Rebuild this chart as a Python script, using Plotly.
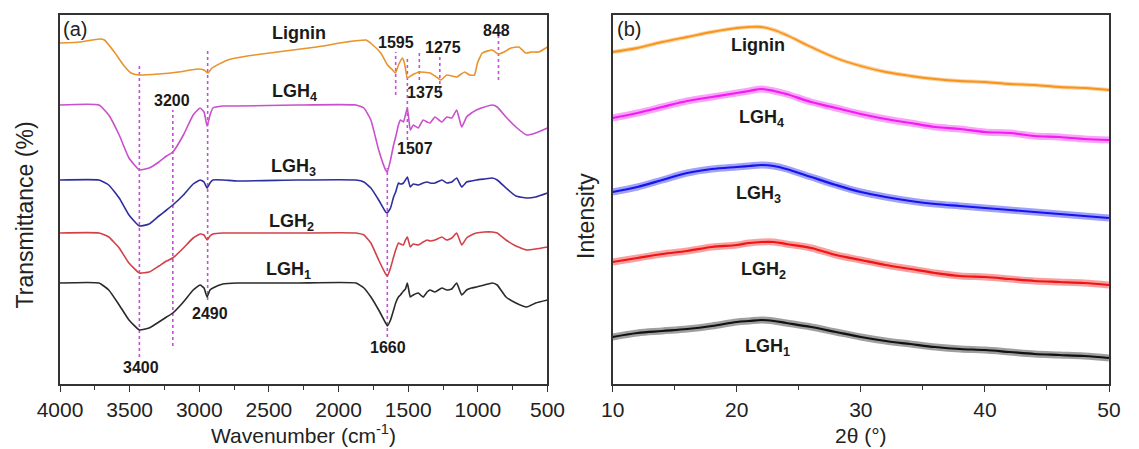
import plotly.graph_objects as go
from plotly.subplots import make_subplots

# ---------------- FTIR data (panel a) ----------------
# wavenumber grid (cm-1) for the lignin spectrum
wn_lignin = [4000, 3858, 3717, 3681, 3610, 3539, 3490, 3433, 3292, 3150, 3008, 2966, 2937, 2909,
             2796, 2654, 2441, 2158, 1945, 1803, 1754, 1697, 1648, 1612, 1591, 1570, 1541, 1527,
             1506, 1471, 1421, 1343, 1308, 1265, 1223, 1152, 1095, 1060, 1024, 1003, 968, 897,
             854, 812, 762, 705, 656, 613, 563, 500]
t_lignin = [341, 342, 345, 344, 332, 318, 311, 309, 310, 312, 315, 314, 311, 316,
            324, 328, 332, 337, 342, 344, 339, 331, 319, 314, 311, 319, 326, 321,
            306, 309, 312, 311, 308, 304, 309, 307, 312, 309, 309, 321, 331, 334,
            330, 332, 336, 337, 331, 332, 332, 337]

# shared wavenumber grid (cm-1) for the LGH spectra
wn_lgh = [4000, 3720, 3650, 3575, 3505, 3430, 3360, 3290, 3235, 3190, 3114, 3044, 2994, 2966,
          2944, 2923, 2902, 2831, 2725, 2300, 1875, 1818, 1768, 1712, 1662, 1650, 1627, 1605,
          1590, 1570, 1556, 1534, 1520, 1506, 1485, 1464, 1428, 1393, 1364, 1343, 1308, 1258,
          1223, 1187, 1152, 1116, 1081, 1046, 1010, 953, 897, 861, 798, 727, 649, 585, 500]
t_lgh4 = [279, 279, 269, 249, 226, 214, 216, 222, 228, 232, 249, 269, 276, 272,
          258, 269, 276, 278, 278, 279, 279, 276, 264, 234, 214, 212, 224, 239,
          247, 259, 264, 262, 269, 276, 254, 259, 256, 264, 262, 261, 267, 262,
          267, 266, 274, 257, 267, 271, 274, 277, 279, 277, 267, 257, 249, 251, 256]
t_lgh3 = [204, 204, 199, 186, 169, 158, 160, 168, 174, 179, 189, 200, 204, 202,
          196, 201, 204, 204, 203, 204, 204, 202, 196, 184, 172, 171, 176, 187,
          192, 201, 200, 201, 204, 207, 197, 200, 199, 201, 202, 201, 201, 204,
          201, 202, 206, 197, 202, 203, 204, 205, 206, 204, 196, 188, 186, 187, 191]
t_lgh2 = [151, 151, 147, 136, 121, 111, 112, 118, 123, 126, 136, 146, 150, 149,
          144, 148, 150, 151, 151, 151, 151, 149, 141, 124, 110, 108, 116, 127,
          134, 141, 140, 139, 144, 147, 137, 140, 139, 142, 144, 143, 144, 147,
          144, 146, 151, 139, 146, 149, 151, 152, 152, 151, 144, 138, 134, 135, 137]
t_lgh1 = [101, 101, 94, 79, 64, 54, 56, 62, 67, 71, 82, 94, 99, 96,
          87, 94, 96, 100, 101, 101, 101, 96, 87, 74, 61, 58, 64, 74,
          81, 87, 89, 93, 95, 101, 87, 89, 91, 87, 92, 94, 92, 96,
          94, 95, 101, 89, 94, 96, 97, 99, 101, 99, 87, 81, 77, 81, 84]

# marked band positions (cm-1) and the extent of each dotted guide (a.u.)
band_wn = [3430, 3190, 2940, 1650, 1590, 1506, 1420, 1273, 852]
band_top = [321, 274, 334, 216, 332, 326, 331, 329, 349]
band_bottom = [27, 38, 84, 47, 289, 244, 304, 294, 304]
band_labels = ["3400", "3200", "2490", "1660", "1595", "1507", "1375", "1275", "848"]

# ---------------- XRD data (panel b) ----------------
two_theta = [10, 12, 14, 16, 18, 20, 21, 22, 23, 24, 26, 28, 30, 32, 34, 36, 38, 40, 42, 44, 46, 48, 50]
i_lignin = [332, 336, 342, 347, 352, 356, 357, 357, 354, 349, 337, 326, 318, 312, 308, 305, 303, 302, 300, 299, 297, 296, 294]
i_lgh4 = [266, 271, 277, 283, 287, 291, 293, 295, 293, 290, 282, 276, 270, 265, 261, 257, 255, 252, 251, 248, 247, 245, 244]
i_lgh3 = [192, 197, 204, 211, 215, 217, 218, 219, 218, 215, 207, 199, 192, 187, 183, 180, 178, 176, 174, 172, 170, 168, 166]
i_lgh2 = [122, 126, 130, 133, 137, 139, 141, 142, 142, 140, 136, 129, 124, 119, 115, 111, 108, 107, 105, 103, 102, 101, 99]
i_lgh1 = [47, 51, 53, 55, 58, 62, 63, 64, 63, 61, 57, 52, 47, 43, 40, 37, 35, 34, 32, 30, 29, 28, 26]

series_names = ["Lignin", "LGH<sub>4</sub>", "LGH<sub>3</sub>", "LGH<sub>2</sub>", "LGH<sub>1</sub>"]

# ---------------- figure ----------------
W, H = 1139, 449
L, R, T, B = 60, 16, 15, 65
plot_w = W - L - R
plot_h = H - T - B

def px(x):
    return (x - L) / plot_w

def py(y):
    return (H - B - y) / plot_h

fig = make_subplots(rows=1, cols=2)
dom_a = [0, px(554)]
dom_b = [px(620), 1]

FONT = "Arial, Liberation Sans, sans-serif"

colors_a = ["#E8932C", "#C94FCC", "#2E2E9E", "#D2404A", "#2a2a2a"]
colors_b = ["#F7941D", "#F21BF2", "#1414F0", "#F01414", "#111111"]

# dotted guide lines (drawn first, under spectra)
for w, y0, y1 in zip(band_wn, band_bottom, band_top):
    fig.add_trace(go.Scatter(x=[w, w], y=[y0, y1], mode="lines",
                             line=dict(color="#C44FD8", width=1.6, dash="dot"),
                             showlegend=False, hoverinfo="skip"), row=1, col=1)

ftir = [(wn_lignin, t_lignin), (wn_lgh, t_lgh4), (wn_lgh, t_lgh3), (wn_lgh, t_lgh2), (wn_lgh, t_lgh1)]
for (xs, ys), c, n in zip(ftir, colors_a, series_names):
    fig.add_trace(go.Scatter(x=xs, y=ys, mode="lines", name=n,
                             line=dict(color=c, width=1.6, shape="spline", smoothing=0.4),
                             showlegend=False), row=1, col=1)

xrd = [i_lignin, i_lgh4, i_lgh3, i_lgh2, i_lgh1]
for k, (ys, c, n) in enumerate(zip(xrd, colors_b, series_names)):
    band = 4 if k == 0 else 7
    fig.add_trace(go.Scatter(x=two_theta, y=ys, mode="lines", opacity=0.4,
                             line=dict(color=c, width=band, shape="spline"),
                             showlegend=False, hoverinfo="skip"), row=1, col=2)
    fig.add_trace(go.Scatter(x=two_theta, y=ys, mode="lines", name=n,
                             line=dict(color=c, width=1.8 if k == 0 else 2.2, shape="spline"),
                             showlegend=False), row=1, col=2)

axis_common = dict(showline=True, mirror=True, linecolor="#333333", linewidth=1.5,
                   showgrid=False, zeroline=False)
fig.update_xaxes(**axis_common, ticks="outside", ticklen=6, tickwidth=1.3, tickcolor="#333333",
                 tickfont=dict(family=FONT, size=21, color="#222222"))
fig.update_xaxes(range=[4000, 500], dtick=500, tick0=500, domain=dom_a,
                 minor=dict(ticks="outside", ticklen=4, dtick=250, tickcolor="#333333"), row=1, col=1)
fig.update_xaxes(range=[10, 50], dtick=10, tick0=10, domain=dom_b,
                 minor=dict(ticks="outside", ticklen=4, dtick=5, tickcolor="#333333"), row=1, col=2)
fig.update_yaxes(**axis_common, showticklabels=False, ticks="", range=[0, plot_h])

ann = []
def label(xp, yp, text, size=16):
    ann.append(dict(x=px(xp), y=py(yp), xref="paper", yref="paper", text="<b>%s</b>" % text,
                    showarrow=False, font=dict(family=FONT, size=size, color="#1a1a1a"),
                    xanchor="center", yanchor="middle"))

# band labels (panel a)
band_label_pos = [(142, 367), (173, 100), (212, 313), (392, 347), (400, 43),
                  (420, 148), (430, 92), (448, 47), (502, 30)]
for (xp, yp), t in zip(band_label_pos, band_labels):
    label(xp, yp, t, 16)

# series names, panel a
for (xp, yp), n in zip([(302, 33), (298, 92), (297, 167), (295, 222), (292, 270)], series_names):
    label(xp, yp, n, 18)
# series names, panel b
for (xp, yp), n in zip([(767, 45), (771, 119), (768, 194), (773, 270), (777, 347)], series_names):
    label(xp, yp, n, 18)

# panel tags
ann.append(dict(x=px(61), y=py(16), xref="paper", yref="paper", text="(a)", showarrow=False,
                font=dict(family=FONT, size=20, color="#222"), xanchor="left", yanchor="top"))
ann.append(dict(x=px(622), y=py(16), xref="paper", yref="paper", text="(b)", showarrow=False,
                font=dict(family=FONT, size=20, color="#222"), xanchor="left", yanchor="top"))

# axis titles
ann.append(dict(x=px(307), y=py(449), xref="paper", yref="paper",
                text="Wavenumber (cm<sup>-1</sup>)", showarrow=False,
                font=dict(family=FONT, size=21, color="#222"), xanchor="center", yanchor="bottom"))
ann.append(dict(x=px(872), y=py(449), xref="paper", yref="paper",
                text="2θ (°)", showarrow=False,
                font=dict(family=FONT, size=21, color="#222"), xanchor="center", yanchor="bottom"))
ann.append(dict(x=px(25), y=py(215), xref="paper", yref="paper",
                text="Transmittance (%)", showarrow=False, textangle=-90,
                font=dict(family=FONT, size=23, color="#222"), xanchor="center", yanchor="middle"))
ann.append(dict(x=px(593), y=py(216), xref="paper", yref="paper",
                text="Intensity", showarrow=False, textangle=-90,
                font=dict(family=FONT, size=23, color="#222"), xanchor="center", yanchor="middle"))

fig.update_layout(width=W, height=H, autosize=False, margin=dict(l=L, r=R, t=T, b=B),
                  paper_bgcolor="white", plot_bgcolor="white", annotations=ann,
                  showlegend=False)

fig.write_html("out.html",
               config={"displayModeBar": False},
               post_script=("document.body.style.margin='0';"
                            "document.body.style.overflow='hidden';"))
